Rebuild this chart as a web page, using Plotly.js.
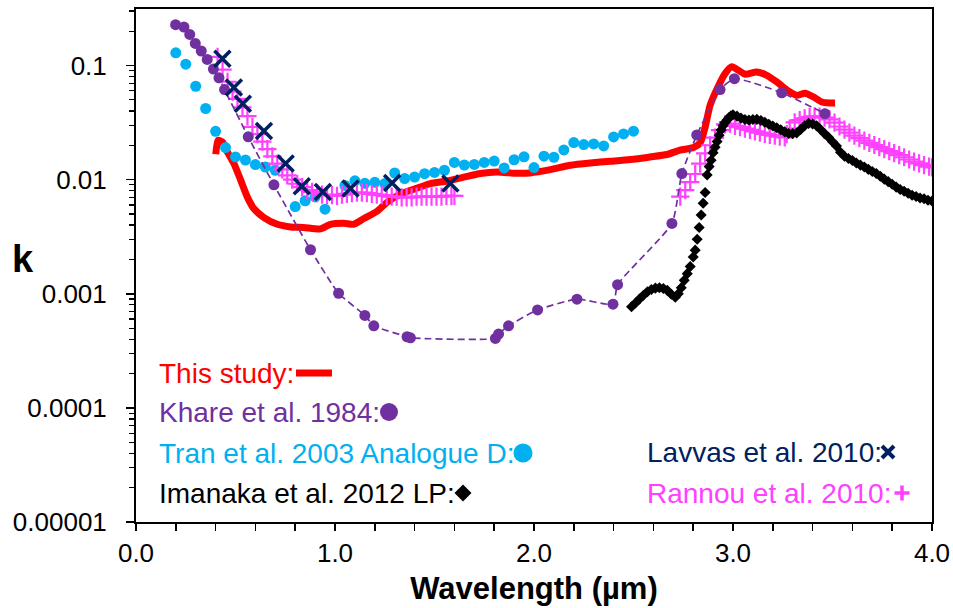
<!DOCTYPE html>
<html>
<head>
<meta charset="utf-8">
<script src="https://cdn.plot.ly/plotly-3.0.1.min.js"></script>
<style>html,body{margin:0;padding:0;background:#fff;}#chart{width:953px;height:608px;}</style>
</head>
<body>
<div id="chart"></div>
<script>
// ---------------- data ----------------
// This study (red line)
var thisX = [0.401,0.412,0.434,0.459,0.492,0.526,0.559,0.592,0.643,0.710,0.777,0.843,0.927,0.977,1.044,1.094,1.145,1.212,1.262,1.329,1.396,1.479,1.563,1.647,1.730,1.814,1.906,1.981,2.082,2.183,2.283,2.384,2.484,2.584,2.668,2.734,2.801,2.835,2.860,2.885,2.919,2.960,2.994,3.027,3.061,3.119,3.170,3.220,3.270,3.320,3.362,3.404,3.446,3.487,3.513];
var thisK = [0.01667,0.0221,0.0214,0.0175,0.01383,0.00989,0.00706,0.00558,0.00465,0.00406,0.00385,0.00381,0.0037,0.00406,0.00415,0.00406,0.00456,0.00528,0.00634,0.00745,0.00824,0.00924,0.00973,0.0105,0.0113,0.01167,0.01138,0.01145,0.01222,0.01337,0.0140,0.01449,0.0150,0.0158,0.0166,0.0181,0.0191,0.0210,0.0289,0.0448,0.0619,0.0849,0.0977,0.0908,0.0838,0.0877,0.082,0.0718,0.0612,0.0548,0.0571,0.053,0.0479,0.047,0.047];

// Khare et al. 1984 (purple dots, dashed)
var khareX = [0.199,0.241,0.270,0.298,0.328,0.358,0.389,0.417,0.445,0.564,0.693,0.877,1.018,1.150,1.195,1.362,1.379,1.806,1.822,1.872,2.018,2.216,2.397,2.420,2.693,2.743,2.818,2.935,3.007,3.245,3.462];
var khareK = [0.228,0.217,0.187,0.156,0.134,0.113,0.093,0.078,0.0615,0.0237,0.0090,0.00243,0.00101,0.000646,0.000524,0.00042,0.000411,0.000406,0.000443,0.000524,0.000722,0.000897,0.000811,0.0012,0.00413,0.0113,0.0246,0.0615,0.0767,0.0577,0.0378];

// Tran et al. 2003 Analogue D (light blue dots)
var tranX = [0.20,0.25,0.30,0.35,0.40,0.45,0.50,0.55,0.60,0.65,0.70,0.80,0.85,0.90,0.95,1.05,1.10,1.15,1.20,1.25,1.30,1.35,1.40,1.45,1.50,1.55,1.60,1.65,1.70,1.75,1.80,1.85,1.90,1.95,2.00,2.05,2.10,2.15,2.20,2.25,2.30,2.35,2.40,2.45,2.50];
var tranK = [0.129,0.1026,0.0658,0.0420,0.0265,0.0191,0.0158,0.01486,0.01355,0.0129,0.01208,0.00581,0.00653,0.00706,0.00551,0.00889,0.00975,0.00929,0.00948,0.00924,0.01143,0.01023,0.01054,0.01127,0.01156,0.01208,0.01413,0.01343,0.01358,0.01413,0.01455,0.01265,0.01493,0.01585,0.01276,0.01603,0.0157,0.0182,0.02113,0.02027,0.02056,0.01972,0.02366,0.02512,0.02655];

// Imanaka et al. 2012 LP (black diamonds)
var imaX = [2.49,2.51,2.53,2.55,2.57,2.59,2.61,2.63,2.65,2.67,2.69,2.71,2.725,2.74,2.755,2.77,2.785,2.80,2.81,2.82,2.83,2.84,2.85,2.86,2.87,2.88,2.89,2.90,2.91,2.92,2.93,2.94,2.95,2.96,2.97,2.98,2.99,3.00,3.02,3.04,3.06,3.08,3.10,3.12,3.14,3.16,3.18,3.20,3.22,3.24,3.26,3.28,3.30,3.32,3.34,3.36,3.38,3.40,3.42,3.44,3.46,3.48,3.50,3.52,3.54,3.56,3.58,3.60,3.62,3.64,3.66,3.68,3.70,3.72,3.74,3.76,3.78,3.80,3.82,3.84,3.86,3.88,3.90,3.92,3.94,3.96,3.98,4.00];
var imaK = [0.00077,0.00083,0.00090,0.00097,0.00104,0.00109,0.00112,0.00113,0.00111,0.00107,0.00099,0.00093,0.00100,0.00113,0.00131,0.00150,0.00173,0.00210,0.00241,0.00300,0.00380,0.00490,0.0062,0.0077,0.0110,0.0130,0.0148,0.0172,0.0192,0.0216,0.0245,0.0272,0.0296,0.0316,0.0333,0.0350,0.0362,0.0370,0.0360,0.0346,0.0336,0.0332,0.0336,0.0337,0.0330,0.0318,0.0306,0.0295,0.0285,0.0273,0.0262,0.0254,0.0253,0.0256,0.0275,0.0296,0.0311,0.0307,0.0296,0.0275,0.0253,0.0235,0.0215,0.0197,0.0174,0.0160,0.0153,0.0147,0.0140,0.0134,0.0129,0.0123,0.0118,0.0113,0.0107,0.0101,0.0096,0.0091,0.0086,0.0082,0.0079,0.0076,0.0073,0.0071,0.0069,0.0068,0.0066,0.0065];

// Lavvas et al. 2010 (navy x)
var lavX = [0.434,0.492,0.537,0.643,0.752,0.833,0.939,1.078,1.287,1.580];
var lavK = [0.1148,0.0640,0.0463,0.0267,0.01383,0.00875,0.0078,0.00835,0.00935,0.00924];

// Rannou et al. 2010 (magenta +), two segments
var ranX = [0.41,0.435,0.46,0.485,0.51,0.535,0.56,0.585,0.61,0.635,0.66,0.685,0.71,0.735,0.76,0.785,0.81,0.835,0.86,0.885,0.91,0.935,0.96,0.985,1.01,1.035,1.06,1.085,1.11,1.135,1.16,1.185,1.21,1.235,1.26,1.285,1.31,1.335,1.36,1.385,1.41,1.435,1.46,1.485,1.51,1.535,1.56,1.585,1.60,
  null,
  2.735,2.76,2.785,2.81,2.835,2.86,2.885,2.91,2.935,2.96,2.985,3.01,3.035,3.06,3.085,3.11,3.135,3.16,3.185,3.21,3.235,3.26,3.27,3.285,3.31,3.335,3.36,3.385,3.41,3.435,3.46,3.485,3.51,3.535,3.56,3.585,3.61,3.635,3.66,3.685,3.71,3.735,3.76,3.785,3.81,3.835,3.86,3.885,3.91,3.935,3.96,3.985,4.00];
var ranK = [0.119,0.092,0.072,0.059,0.051,0.043,0.036,0.029,0.025,0.0215,0.0185,0.016,0.0138,0.0123,0.0109,0.0100,0.0092,0.0086,0.0081,0.0078,0.0076,0.0074,0.0073,0.0073,0.0072,0.0074,0.0075,0.0076,0.0077,0.0077,0.0076,0.0075,0.0074,0.0073,0.0072,0.0071,0.0071,0.0070,0.0070,0.0070,0.0071,0.0071,0.0071,0.0071,0.0071,0.0071,0.0072,0.0072,0.0072,
  null,
  0.0071,0.0081,0.0095,0.0112,0.0138,0.0170,0.0200,0.0233,0.0271,0.0305,0.0310,0.0296,0.0288,0.0280,0.0273,0.0265,0.0258,0.0252,0.0247,0.0243,0.0238,0.0234,0.0250,0.0280,0.0318,0.0333,0.0345,0.0355,0.0358,0.0356,0.0349,0.0337,0.0316,0.0292,0.0274,0.0258,0.0243,0.0231,0.0220,0.0210,0.0201,0.0193,0.0185,0.0178,0.0171,0.0164,0.0157,0.0150,0.0144,0.0139,0.0134,0.0130,0.0128];

// axis ticks
var xTickVals = [0,1,2,3,4];
var xTickText = ["0.0","1.0","2.0","3.0","4.0"];
var yTickVals = [1e-5,1e-4,1e-3,1e-2,1e-1];
var yTickText = ["0.00001","0.0001","0.001","0.01","0.1"];

// legend labels
var legendLabels = ["This study:","Khare et al. 1984:","Tran et al. 2003 Analogue D:","Imanaka et al. 2012 LP:","Lavvas et al. 2010:","Rannou et al. 2010:"];

// ---------------- styling ----------------
var FONT = "Arial, 'Liberation Sans', sans-serif";
var C_RED = "#FF0000", C_PUR = "#7030A0", C_BLU = "#00B0F0", C_BLK = "#000000", C_NAV = "#002060", C_MAG = "#FF40FF";

var traces = [
  {x: thisX, y: thisK, mode: "lines", line: {color: C_RED, width: 7, shape: "spline", smoothing: 0.6}, hoverinfo: "skip"},
  {x: tranX, y: tranK, mode: "markers", marker: {symbol: "circle", size: 11, color: C_BLU}, hoverinfo: "skip"},
  {x: ranX, y: ranK, mode: "markers", connectgaps: false,
   marker: {symbol: "cross-thin", size: 13, color: C_MAG, line: {color: C_MAG, width: 2.2}}, hoverinfo: "skip"},
  {x: khareX, y: khareK, mode: "lines+markers", line: {color: C_PUR, width: 1.7, dash: "7px,4px", shape: "spline", smoothing: 0.5},
   marker: {symbol: "circle", size: 11, color: C_PUR}, hoverinfo: "skip"},
  {x: imaX, y: imaK, mode: "markers", marker: {symbol: "diamond", size: 8.5, color: C_BLK}, hoverinfo: "skip"},
  {x: lavX, y: lavK, mode: "markers", marker: {symbol: "x-thin", size: 16, color: C_NAV, line: {color: C_NAV, width: 3.5}}, hoverinfo: "skip"}
];

// plot area geometry (pixels) for paper-coordinate legend placement
var L = 136, R = 932, T = 9, B = 522;
function px(x){ return (x - L) / (R - L); }
function py(y){ return (B - y) / (B - T); }

var legendRows = [
  {text: legendLabels[0], color: C_RED, x: 157, y: 373},
  {text: legendLabels[1], color: C_PUR, x: 157, y: 412},
  {text: legendLabels[2], color: C_BLU, x: 157, y: 453},
  {text: legendLabels[3], color: C_BLK, x: 157, y: 493},
  {text: legendLabels[4], color: C_NAV, x: 645, y: 452},
  {text: legendLabels[5], color: C_MAG, x: 645, y: 493}
];
var annotations = legendRows.map(function(r){
  return {xref: "paper", yref: "paper", x: px(r.x), y: py(r.y), xanchor: "left", yanchor: "middle",
          text: r.text, showarrow: false, font: {family: FONT, size: 28, color: r.color}};
});
annotations.push({xref: "paper", yref: "paper", x: px(23), y: py(259), xanchor: "center", yanchor: "middle",
  text: "k", showarrow: false, font: {family: FONT, size: 38, color: "#000", weight: "bold"}});

var shapes = [
  // red line glyph
  {type: "line", xref: "paper", yref: "paper", xsizemode: "pixel", ysizemode: "pixel",
   xanchor: px(314), yanchor: py(373), x0: -18, x1: 18, y0: 0, y1: 0, line: {color: C_RED, width: 7}},
  // purple dot
  {type: "circle", xref: "paper", yref: "paper", xsizemode: "pixel", ysizemode: "pixel",
   xanchor: px(389), yanchor: py(412), x0: -9, x1: 9, y0: -9, y1: 9, fillcolor: C_PUR, line: {width: 0}},
  // blue dot
  {type: "circle", xref: "paper", yref: "paper", xsizemode: "pixel", ysizemode: "pixel",
   xanchor: px(523), yanchor: py(453), x0: -9.5, x1: 9.5, y0: -9.5, y1: 9.5, fillcolor: C_BLU, line: {width: 0}},
  // black diamond
  {type: "path", xref: "paper", yref: "paper", xsizemode: "pixel", ysizemode: "pixel",
   xanchor: px(463), yanchor: py(493), path: "M0,-8.5 L8.5,0 L0,8.5 L-8.5,0 Z", fillcolor: C_BLK, line: {width: 0}},
  // navy x
  {type: "path", xref: "paper", yref: "paper", xsizemode: "pixel", ysizemode: "pixel",
   xanchor: px(888), yanchor: py(452), path: "M-6,-6 L6,6 M-6,6 L6,-6", line: {color: C_NAV, width: 4}},
  // magenta +
  {type: "path", xref: "paper", yref: "paper", xsizemode: "pixel", ysizemode: "pixel",
   xanchor: px(902), yanchor: py(493), path: "M-7.5,0 L7.5,0 M0,-7.5 L0,7.5", line: {color: C_MAG, width: 3.5}}
];

var layout = {
  width: 953, height: 608,
  margin: {l: L, r: 953 - R, t: T, b: 608 - B, pad: 0},
  paper_bgcolor: "#fff", plot_bgcolor: "#fff",
  showlegend: false,
  font: {family: FONT, color: "#000"},
  xaxis: {
    range: [0, 4], tickmode: "array", tickvals: xTickVals, ticktext: xTickText,
    ticks: "outside", ticklen: 7, tickwidth: 1.5, tickcolor: "#000",
    showline: true, linewidth: 2, linecolor: "#000", mirror: true,
    showgrid: false, zeroline: false,
    minor: {dtick: 0.2, tick0: 0, ticks: "outside", ticklen: 7, tickwidth: 1.5, tickcolor: "#000", showgrid: false},
    tickfont: {family: FONT, size: 26, color: "#000"},
    title: {text: "Wavelength (µm)", font: {family: FONT, size: 31, color: "#000", weight: "bold"}, standoff: 10}
  },
  yaxis: {
    type: "log", range: [-5, -0.505], tickmode: "array", tickvals: yTickVals, ticktext: yTickText,
    ticks: "outside", ticklen: 8, tickwidth: 1.5, tickcolor: "#000",
    showline: true, linewidth: 2, linecolor: "#000", mirror: true,
    showgrid: false, zeroline: false,
    minor: {dtick: "D1", ticks: "outside", ticklen: 5, tickwidth: 1.2, tickcolor: "#000", showgrid: false},
    tickfont: {family: FONT, size: 26, color: "#000"},
    ticklabelstandoff: 14
  },
  annotations: annotations,
  shapes: shapes
};

Plotly.newPlot("chart", traces, layout, {staticPlot: true, displayModeBar: false});
</script>
</body>
</html>
